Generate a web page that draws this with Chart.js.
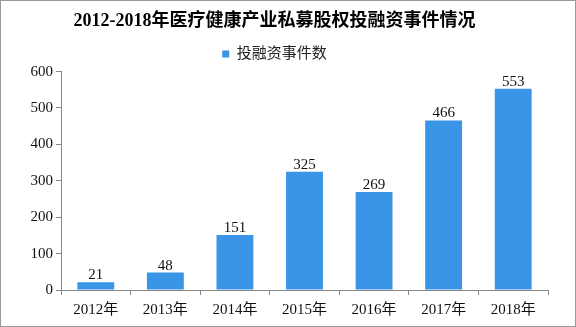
<!DOCTYPE html>
<html>
<head>
<meta charset="utf-8">
<script src="https://cdn.jsdelivr.net/npm/chart.js@4.4.0/dist/chart.umd.min.js"></script>
<style>
  body { margin: 0; background: #fff; }
  #wrap { width: 576px; height: 327px; box-sizing: border-box; border: 1px solid #9a9a9a; }
  canvas { display: block; }
</style>
</head>
<body>
<div id="wrap"><canvas id="grafico" width="574" height="325"></canvas></div>
<script>
// Dados do gráfico
const anos = ['2012年', '2013年', '2014年', '2015年', '2016年', '2017年', '2018年'];
const eventos = [21, 48, 151, 325, 269, 466, 553];
const ticksY = [0, 100, 200, 300, 400, 500, 600];

const fonteNum = '"Liberation Serif", "Noto Sans CJK SC", serif';
const fonteCJK = '"Liberation Serif", "Noto Sans CJK SC", sans-serif';

// Plugin para escrever os valores em cima das barras
const rotulos = {
  id: 'rotulos',
  afterDatasetsDraw(chart) {
    const ctx = chart.ctx;
    const meta = chart.getDatasetMeta(0);
    ctx.save();
    ctx.font = '15px ' + fonteNum;
    ctx.fillStyle = '#111';
    ctx.textAlign = 'center';
    ctx.textBaseline = 'alphabetic';
    meta.data.forEach((bar, i) => {
      ctx.fillText(eventos[i], bar.x, bar.y - 3);
    });
    ctx.restore();
  }
};

const ctx = document.getElementById('grafico').getContext('2d');

new Chart(ctx, {
  type: 'bar',
  data: {
    labels: anos,
    datasets: [{
      label: '投融资事件数',
      data: eventos,
      backgroundColor: '#3a95e6',
      barPercentage: 0.53,
      categoryPercentage: 1
    }]
  },
  options: {
    responsive: false,
    animation: false,
    layout: { padding: { left: 0, right: 27, bottom: 6, top: 0 } },
    plugins: {
      title: {
        display: true,
        text: '2012-2018年医疗健康产业私募股权投融资事件情况',
        color: '#000',
        font: { family: fonteCJK, size: 18, weight: 'bold' },
        padding: { top: 10, bottom: 4 }
      },
      legend: {
        display: true,
        labels: {
          color: '#222',
          boxWidth: 7,
          boxHeight: 7,
          padding: 10,
          font: { family: fonteCJK, size: 15 }
        }
      },
      tooltip: { enabled: false }
    },
    scales: {
      x: {
        offset: true,
        grid: { display: true, drawOnChartArea: false, offset: true, tickLength: 5, color: '#888' },
        border: { color: '#888' },
        ticks: { color: '#111', font: { family: fonteCJK, size: 15 }, padding: 6 },
        afterFit(scale) { scale.height = 30; }
      },
      y: {
        min: 0,
        max: 600,
        afterBuildTicks(scale) { scale.ticks = ticksY.map(v => ({ value: v })); },
        grid: { display: true, drawOnChartArea: false, tickLength: 5, color: '#888' },
        border: { color: '#888' },
        ticks: { color: '#111', font: { family: fonteNum, size: 15 }, padding: 3 },
        afterFit(scale) { scale.width = 60; }
      }
    }
  },
  plugins: [rotulos]
});
</script>
</body>
</html>
